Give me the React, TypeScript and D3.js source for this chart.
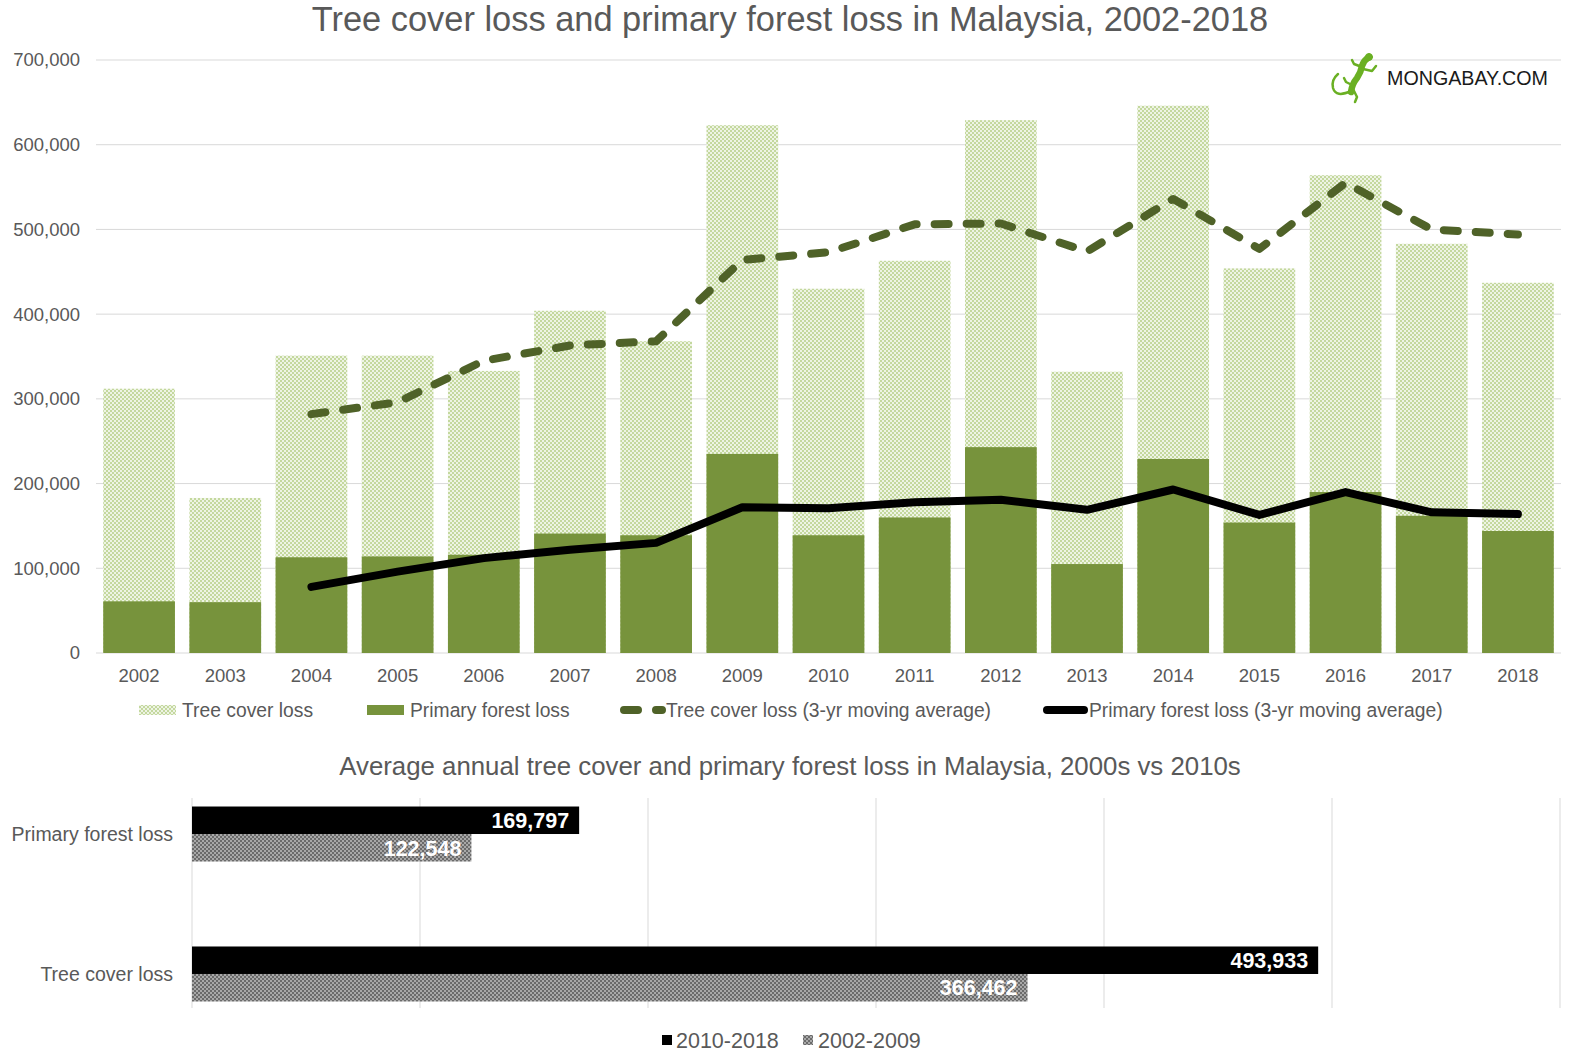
import React from 'react';
import * as d3 from 'd3';

// annual values, hectares
const YEARS = ['2002', '2003', '2004', '2005', '2006', '2007', '2008', '2009', '2010', '2011', '2012', '2013', '2014', '2015', '2016', '2017', '2018'];
const TREE_COVER_LOSS = [312000, 183000, 351000, 351000, 333000, 404000, 368000, 623000, 430000, 463000, 629000, 332000, 646000, 454000, 564000, 483000, 437000];
const PRIMARY_FOREST_LOSS = [61000, 60000, 113000, 114000, 116000, 141000, 139000, 235000, 139000, 160000, 243000, 105000, 229000, 154000, 190000, 162000, 144000];

// 3-yr moving averages start in 2004
const MA_YEARS = ['2004', '2005', '2006', '2007', '2008', '2009', '2010', '2011', '2012', '2013', '2014', '2015', '2016', '2017', '2018'];
const TREE_COVER_MA = [282000, 296000, 345000, 363000, 368000, 464000, 473000, 506000, 507000, 474000, 536000, 477000, 555000, 500000, 494000];
const PRIMARY_MA = [78000, 96000, 112000, 122000, 130000, 172000, 171000, 178000, 181000, 169000, 193000, 163000, 190000, 166000, 164000];

const Y_TICKS = [0, 100000, 200000, 300000, 400000, 500000, 600000, 700000];

const AVG_CATEGORIES = ['Primary forest loss', 'Tree cover loss'];
const AVG_PERIODS = ['2010-2018', '2002-2009'];
const AVG_2010S = [169797, 493933];
const AVG_2000S = [122548, 366462];
const AVG_TICKS = [100000, 200000, 300000, 400000, 500000, 600000];

const W = 1582;
const H = 1055;
const FONT = '"Liberation Sans", Arial, sans-serif';
const TEXT = '#595959';
const GRID = '#d9d9d9';
const GREEN = '#77933c';
const DARK_GREEN = '#4f6228';
const GECKO = '#6ab023';

const fmt = d3.format(',');

export default function App() {
  // top chart
  const x = d3.scaleBand<string>().domain(YEARS).range([96, 1561]).paddingInner(0.168).paddingOuter(0.084);
  const y = d3.scaleLinear().domain([0, 700000]).range([653, 60]);
  const cx = (yr: string) => (x(yr) as number) + x.bandwidth() / 2;

  const maLine = d3.line<number>().x((_, i) => cx(MA_YEARS[i])).y((d) => y(d));

  // bottom chart
  const bx = d3.scaleLinear().domain([0, 600000]).range([192, 1560]);
  const by = d3.scalePoint<string>().domain(AVG_CATEGORIES).range([800, 1008]).padding(0.243);
  const sub = d3.scaleBand<string>().domain(AVG_PERIODS).range([-27.5, 27.5]);

  const legendTop = [
    { label: 'Tree cover loss', x: 139, kind: 'tree' },
    { label: 'Primary forest loss', x: 367, kind: 'primary' },
    { label: 'Tree cover loss (3-yr moving average)', x: 620, kind: 'dash' },
    { label: 'Primary forest loss (3-yr moving average)', x: 1043, kind: 'black' },
  ];

  return (
    <div style={{ position: 'absolute', left: 0, top: 0 }}>
      <svg width={W} height={H} style={{ display: 'block', background: '#fff' }} fontFamily={FONT}>
        <defs>
          <pattern id="treePat" width="4" height="4" patternUnits="userSpaceOnUse">
            <rect width="4" height="4" fill="#eef4e4" />
            <rect width="2" height="2" fill="#c4d89e" />
            <rect x="2" y="2" width="2" height="2" fill="#c4d89e" />
          </pattern>
          <pattern id="grayPat" width="4" height="4" patternUnits="userSpaceOnUse">
            <rect width="4" height="4" fill="#a8a8a8" />
            <rect width="2" height="2" fill="#6a6a6a" />
            <rect x="2" y="2" width="2" height="2" fill="#6a6a6a" />
          </pattern>
        </defs>

        <text x={790} y={31} textAnchor="middle" fontSize={34.4} fill={TEXT}>
          Tree cover loss and primary forest loss in Malaysia, 2002-2018
        </text>

        {/* gridlines + y axis labels */}
        {Y_TICKS.map((t) => (
          <g key={t}>
            <line x1={96} x2={1561} y1={y(t)} y2={y(t)} stroke={GRID} strokeWidth={1} />
            <text x={80} y={y(t)} dy="0.35em" textAnchor="end" fontSize={18.5} fill={TEXT}>
              {fmt(t)}
            </text>
          </g>
        ))}

        {YEARS.map((yr, i) => (
          <g key={yr}>
            <rect x={x(yr)} y={y(TREE_COVER_LOSS[i])} width={x.bandwidth()} height={y(0) - y(TREE_COVER_LOSS[i])} fill="url(#treePat)" />
            <rect x={x(yr)} y={y(PRIMARY_FOREST_LOSS[i])} width={x.bandwidth()} height={y(0) - y(PRIMARY_FOREST_LOSS[i])} fill={GREEN} />
            <text x={cx(yr)} y={682} textAnchor="middle" fontSize={18.5} fill={TEXT}>
              {yr}
            </text>
          </g>
        ))}

        <path d={maLine(TREE_COVER_MA) || ''} fill="none" stroke={DARK_GREEN} strokeWidth={8} strokeDasharray="14 18" strokeLinecap="round" strokeLinejoin="round" />
        <path d={maLine(PRIMARY_MA) || ''} fill="none" stroke="#000" strokeWidth={8} strokeLinecap="round" strokeLinejoin="round" />

        {/* legend */}
        {legendTop.map((l) => (
          <g key={l.label} transform={`translate(${l.x},710)`}>
            {l.kind === 'tree' && <rect x={0} y={-5} width={37} height={10} fill="url(#treePat)" />}
            {l.kind === 'primary' && <rect x={0} y={-5} width={37} height={10} fill={GREEN} />}
            {l.kind === 'dash' && (
              <line x1={4} x2={42} y1={0} y2={0} stroke={DARK_GREEN} strokeWidth={8} strokeDasharray="14 18" strokeLinecap="round" />
            )}
            {l.kind === 'black' && <line x1={4} x2={41} y1={0} y2={0} stroke="#000" strokeWidth={8} strokeLinecap="round" />}
            <text x={l.kind === 'dash' || l.kind === 'black' ? 46 : 43} y={0} dy="0.35em" fontSize={19.3} fill={TEXT}>
              {l.label}
            </text>
          </g>
        ))}

        {/* logo */}
        <g fill="none" stroke={GECKO} strokeLinecap="round" strokeLinejoin="round">
          <path d="M1351,91 Q1336,98 1333,88 Q1331,80 1338,74" strokeWidth={2.5} />
          <path d="M1351,92 Q1352,84 1357,78 Q1361,72 1362,66 Q1364,60 1369,57" strokeWidth={6.5} />
          <path d="M1362,67 L1354,64 L1352,60 M1363,69 L1372,71 L1376,66 M1354,86 L1346,82 L1344,78 M1353,89 L1357,97 L1355,102" strokeWidth={2.5} />
          <circle cx={1369} cy={57} r={3.5} fill={GECKO} />
        </g>
        <text x={1387} y={85} fontSize={20} fill="#1a1a1a" textLength={161} lengthAdjust="spacingAndGlyphs">
          MONGABAY.COM
        </text>

        {/* bottom chart */}
        <text x={790} y={775} textAnchor="middle" fontSize={25.8} fill={TEXT}>
          Average annual tree cover and primary forest loss in Malaysia, 2000s vs 2010s
        </text>
        {AVG_TICKS.map((t) => (
          <line key={t} x1={bx(t)} x2={bx(t)} y1={798} y2={1008} stroke={GRID} strokeWidth={1} />
        ))}
        <line x1={bx(0)} x2={bx(0)} y1={798} y2={1008} stroke={GRID} strokeWidth={1} />

        {AVG_CATEGORIES.map((c, i) => {
          const c0 = by(c) as number;
          const rows = [
            { period: AVG_PERIODS[0], v: AVG_2010S[i], fill: '#000' },
            { period: AVG_PERIODS[1], v: AVG_2000S[i], fill: 'url(#grayPat)' },
          ];
          return (
            <g key={c}>
              <text x={173} y={c0} dy="0.35em" textAnchor="end" fontSize={19.5} fill={TEXT}>
                {c}
              </text>
              {rows.map((r) => {
                const top = c0 + (sub(r.period) as number);
                return (
                  <g key={r.period}>
                    <rect x={bx(0)} y={top} width={bx(r.v) - bx(0)} height={sub.bandwidth()} fill={r.fill} />
                    <text x={bx(r.v) - 10} y={top + sub.bandwidth() / 2} dy="0.36em" textAnchor="end" fontSize={21.5} fontWeight="bold" fill="#fff">
                      {fmt(r.v)}
                    </text>
                  </g>
                );
              })}
            </g>
          );
        })}

        {/* bottom legend */}
        <rect x={662} y={1035} width={10} height={10} fill="#000" />
        <text x={676} y={1040} dy="0.35em" fontSize={21.5} fill={TEXT}>
          {AVG_PERIODS[0]}
        </text>
        <rect x={803} y={1035} width={10} height={10} fill="url(#grayPat)" />
        <text x={818} y={1040} dy="0.35em" fontSize={21.5} fill={TEXT}>
          {AVG_PERIODS[1]}
        </text>
      </svg>
    </div>
  );
}
